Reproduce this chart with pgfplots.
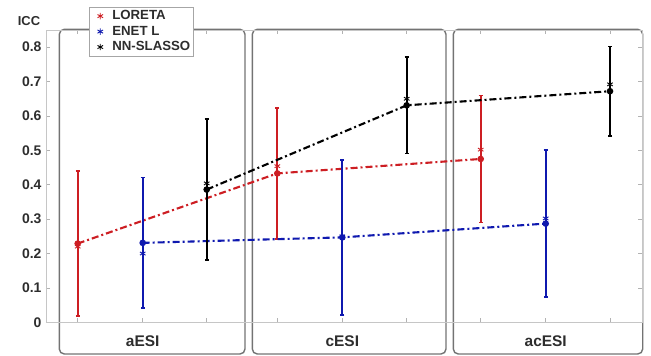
\documentclass[border=0pt]{standalone}
\usepackage{pgfplots}
\pgfplotsset{compat=1.18}
\usepackage{fontspec}
\setmainfont{Liberation Sans}
\definecolor{cred}{RGB}{205,30,35}
\definecolor{cblue}{RGB}{15,25,175}
\definecolor{cbox}{RGB}{115,115,115}
\definecolor{ctxt}{RGB}{45,45,45}
\begin{document}
\begin{tikzpicture}
\path[use as bounding box] (-46bp,-33.7bp) rectangle (605bp,322.3bp);
% panel frames
\foreach \a/\b in {13.3/199,206.3/400,407.3/596.7}{
  \draw[cbox, line width=1.4bp, rounded corners=5bp] (\a bp,-31.7bp) rectangle (\b bp,293bp);
}
\begin{axis}[
  at={(0,0)}, anchor=south west,
  scale only axis, width=596bp, height=292.3bp,
  xmin=46, xmax=642, ymin=0, ymax=0.85,
  /pgf/number format/assume math mode=true,
  xtick={77.7,142.7,206.7,277.3,342.3,406.7,480.7,545.7,610},
  xticklabels={},
  ytick={0,0.1,0.2,0.3,0.4,0.5,0.6,0.7,0.8},
  y tick label style={font=\bfseries\fontsize{14}{16}\selectfont, text=ctxt, xshift=-1bp},
  yticklabel style={/pgf/number format/fixed, /pgf/number format/precision=1},
  tick pos=both, yticklabel pos=left, tick align=inside,
  major tick length=4bp,
  tick style={gray!60, line width=0.6bp},
  axis line style={gray!45, line width=0.6bp},
  legend style={at={(axis description cs:0.0722,1.0787)}, anchor=north west, draw=gray!70, line width=0.5bp, font=\bfseries\fontsize{13.3}{14}\selectfont, text=ctxt, row sep=0.8bp, inner xsep=1bp, inner ysep=1.5bp, cells={anchor=west}},
  legend image code/.code={\path[draw=none] (0bp,0bp) -- (20bp,0bp); \draw[#1] plot[only marks] coordinates {(10bp,0bp)};},
  legend cell align=left,
  clip=false,
]
% legend entries (markers)
\addplot[only marks, mark=asterisk, mark size=3.2bp, cred, line width=0.9bp] coordinates {(77.7,0.220) (277.3,0.454) (480.7,0.502)};
\addlegendentry{LORETA}
\addplot[only marks, mark=asterisk, mark size=3.2bp, cblue, line width=0.9bp] coordinates {(142.7,0.200) (342.3,0.250) (545.7,0.302)};
\addlegendentry{ENET L}
\addplot[only marks, mark=asterisk, mark size=3.2bp, black, line width=0.9bp] coordinates {(206.7,0.404) (406.7,0.650) (610,0.692)};
\addlegendentry{NN-SLASSO}
% means with error bars and dash-dot lines
\addplot[forget plot, cred, line width=2.1bp, dash pattern=on 7bp off 3bp on 2bp off 3bp, mark=*, mark size=2.2bp, mark options={solid},
  error bars/.cd, y dir=both, y explicit, error bar style={line width=1.8bp, solid}, error mark options={rotate=90, mark size=2bp, line width=1.6bp, solid}]
  coordinates {(77.7,0.229) +- (0,0.211) (277.3,0.433) +- (0,0.190) (480.7,0.475) +- (0,0.185)};
\addplot[forget plot, cblue, line width=2.1bp, dash pattern=on 7bp off 3bp on 2bp off 3bp, mark=*, mark size=2.2bp, mark options={solid},
  error bars/.cd, y dir=both, y explicit, error bar style={line width=1.8bp, solid}, error mark options={rotate=90, mark size=2bp, line width=1.6bp, solid}]
  coordinates {(142.7,0.231) +- (0,0.190) (342.3,0.247) +- (0,0.225) (545.7,0.287) +- (0,0.214)};
\addplot[forget plot, black, line width=2.1bp, dash pattern=on 7bp off 3bp on 2bp off 3bp, mark=*, mark size=2.2bp, mark options={solid},
  error bars/.cd, y dir=both, y explicit, error bar style={line width=1.8bp, solid}, error mark options={rotate=90, mark size=2bp, line width=1.6bp, solid}]
  coordinates {(206.7,0.386) +- (0,0.205) (406.7,0.631) +- (0,0.140) (610,0.672) +- (0,0.130)};
\end{axis}
\begin{scope}[font=\bfseries\fontsize{15.5}{17}\selectfont, text=ctxt]
\node at (96.7bp,-19bp) {aESI};
\node at (296.3bp,-19bp) {cESI};
\node at (499.7bp,-19bp) {acESI};
\end{scope}
\node[font=\bfseries\fontsize{13}{15}\selectfont, text=ctxt] at (-17bp,301.5bp) {ICC};
\end{tikzpicture}
\end{document}
